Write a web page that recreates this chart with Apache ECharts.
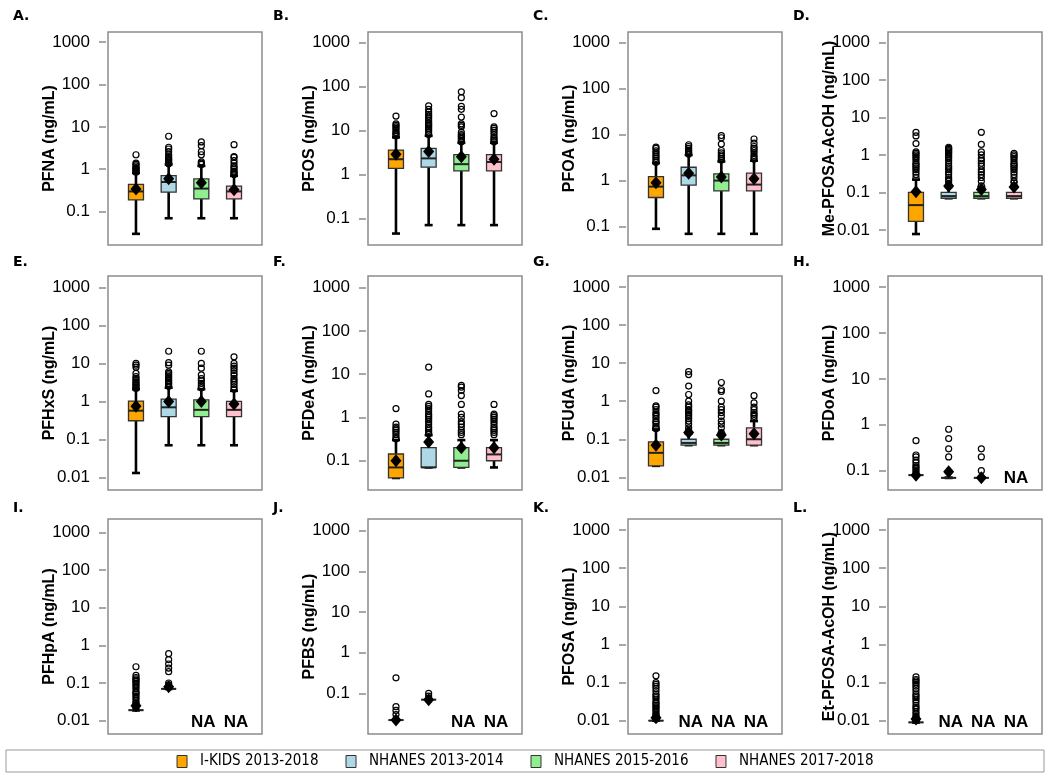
<!DOCTYPE html>
<html>
<head>
<meta charset="utf-8">
<title>PFAS boxplots</title>
<script src="https://cdn.jsdelivr.net/npm/echarts@6/dist/echarts.min.js"></script>
<style>
html, body { margin: 0; padding: 0; background: #fff; }
#main { width: 1050px; height: 779px; }
</style>
</head>
<body>
<div id="main"></div>
<script>
// groups + colours
var groups = ['I-KIDS 2013-2018', 'NHANES 2013-2014', 'NHANES 2015-2016', 'NHANES 2017-2018'];
var groupColors = ['#FFA500', '#ADD8E6', '#90EE90', '#FFC0CB'];

// tick labels
var ticksHi = [0.1, 1, 10, 100, 1000];
var ticksLo = [0.01, 0.1, 1, 10, 100, 1000];

// box stats per group: [min, q1, median, q3, max], null = NA
var pfnaBox = [[0.03, 0.19, 0.3, 0.44, 0.82], [0.07, 0.29, 0.5, 0.71, 1.3], [0.07, 0.2, 0.35, 0.59, 1.2], [0.07, 0.2, 0.3, 0.4, 0.7]];
var pfnaMean = [0.34, 0.6, 0.48, 0.33];
var pfnaOut = [
    [0.85, 0.9, 0.95, 1.0, 1.05, 1.1, 1.2, 1.3, 1.4, 2.2],
    [1.35, 1.4, 1.5, 1.6, 1.7, 1.8, 2.0, 2.2, 2.6, 3.0, 3.3, 6.0],
    [1.3, 1.4, 1.5, 2.2, 2.6, 3.6, 4.4],
    [0.75, 0.8, 0.85, 0.9, 1.0, 1.1, 1.2, 1.4, 1.6, 1.9, 2.0, 3.8]
];

var pfosBox = [[0.045, 1.37, 2.2, 3.56, 6.9], [0.07, 1.45, 2.3, 3.9, 7.5], [0.07, 1.2, 1.7, 2.8, 5.2], [0.07, 1.2, 1.9, 2.8, 5.2]];
var pfosMean = [2.85, 3.3, 2.5, 2.2];
var pfosOut = [
    [7.5, 8, 8.5, 9, 10, 11, 12, 13, 14, 21],
    [8, 9, 10, 11, 12, 13, 14, 15, 17, 19, 21, 23, 26, 30, 36],
    [5.5, 6, 6.5, 7, 7.5, 8, 9, 12, 13, 14, 20, 30, 35, 55, 75],
    [5.5, 6, 6.5, 7, 8, 9, 10, 11, 12, 24]
];

var pfoaBox = [[0.09, 0.43, 0.74, 1.22, 2.4], [0.07, 0.8, 1.3, 1.95, 3.6], [0.07, 0.6, 1.0, 1.4, 2.6], [0.07, 0.6, 0.82, 1.45, 2.7]];
var pfoaMean = [0.9, 1.45, 1.2, 1.1];
var pfoaOut = [
    [2.5, 2.7, 3.0, 3.3, 3.6, 4.0, 4.4, 5.0, 5.3],
    [3.8, 4.0, 4.3, 4.6, 5.0, 5.5, 6.0],
    [2.8, 3.0, 3.3, 3.6, 4.0, 4.5, 6.2, 8.5, 9.5],
    [2.9, 3.2, 3.5, 4.0, 4.5, 5.0, 5.5, 6.5, 8.0]
];

var mefosaBox = [[0.0078, 0.017, 0.046, 0.1, 0.22], [0.07, 0.07, 0.08, 0.1, 0.14], [0.07, 0.07, 0.08, 0.1, 0.14], [0.07, 0.07, 0.08, 0.1, 0.14]];
var mefosaMean = [0.105, 0.148, 0.12, 0.14];
var mefosaOut = [
    [0.25, 0.3, 0.35, 0.4, 0.45, 0.5, 0.55, 0.6, 0.7, 0.8, 0.9, 1.0, 1.1, 1.2, 2.0, 3.2, 4.0],
    [0.15, 0.17, 0.2, 0.22, 0.25, 0.3, 0.35, 0.4, 0.45, 0.5, 0.6, 0.7, 0.8, 0.9, 1.0, 1.1, 1.2, 1.3, 1.4, 1.5, 1.6],
    [0.15, 0.2, 0.25, 0.3, 0.35, 0.4, 0.5, 0.6, 0.7, 0.8, 1.0, 1.2, 1.9, 4.0],
    [0.15, 0.18, 0.2, 0.25, 0.3, 0.35, 0.4, 0.45, 0.5, 0.55, 0.6, 0.7, 0.8, 0.9, 1.0, 1.1]
];

var pfhxsBox = [[0.013, 0.31, 0.57, 1.02, 2.1], [0.07, 0.4, 0.7, 1.15, 2.3], [0.07, 0.4, 0.6, 1.1, 2.1], [0.07, 0.4, 0.6, 1.0, 1.9]];
var pfhxsMean = [0.75, 1.0, 1.0, 0.85];
var pfhxsOut = [
    [2.2, 2.4, 2.6, 2.8, 3.0, 3.3, 3.6, 4.0, 4.5, 5.5, 8.0, 9.0, 10.0],
    [2.5, 2.8, 3.0, 3.3, 3.6, 4.0, 4.5, 5.0, 5.5, 6.0, 9.0, 10.5, 21],
    [2.3, 2.6, 3.0, 3.5, 4.0, 5.0, 7.5, 10, 21],
    [2.1, 2.4, 2.8, 3.2, 3.6, 4.0, 4.8, 5.5, 6.5, 7.5, 8.5, 10, 15]
];

var pfdeaBox = [[0.04, 0.04, 0.07, 0.143, 0.3], [0.07, 0.07, 0.07, 0.2, 0.39], [0.07, 0.07, 0.1, 0.2, 0.3], [0.07, 0.1, 0.14, 0.2, 0.3]];
var pfdeaMean = [0.1, 0.27, 0.2, 0.2];
var pfdeaOut = [
    [0.32, 0.35, 0.4, 0.45, 0.5, 0.55, 0.6, 0.7, 1.6],
    [0.42, 0.45, 0.5, 0.55, 0.6, 0.7, 0.8, 0.9, 1.0, 1.1, 1.2, 1.4, 1.6, 1.8, 2.0, 3.5, 14.5],
    [0.4, 0.45, 0.5, 0.6, 0.7, 0.8, 1.0, 1.2, 2.0, 3.2, 4.2, 5.0, 5.5],
    [0.4, 0.45, 0.5, 0.55, 0.6, 0.7, 0.8, 0.9, 1.0, 1.1, 1.2, 2.0]
];

var pfudaBox = [[0.02, 0.02, 0.044, 0.085, 0.18], [0.07, 0.07, 0.08, 0.1, 0.14], [0.07, 0.07, 0.08, 0.1, 0.14], [0.07, 0.07, 0.1, 0.2, 0.3]];
var pfudaMean = [0.07, 0.15, 0.13, 0.14];
var pfudaOut = [
    [0.19, 0.2, 0.22, 0.25, 0.28, 0.3, 0.35, 0.4, 0.45, 0.5, 0.6, 0.7, 0.75, 1.9],
    [0.15, 0.17, 0.2, 0.25, 0.3, 0.35, 0.4, 0.45, 0.5, 0.55, 0.6, 0.7, 0.8, 1.0, 1.5, 2.5, 5.0, 6.0],
    [0.15, 0.2, 0.25, 0.3, 0.4, 0.5, 0.6, 0.7, 1.0, 1.8, 2.0, 3.1],
    [0.35, 0.4, 0.45, 0.5, 0.6, 0.7, 0.9, 1.4]
];

var pfdoaBox = [[0.08, 0.08, 0.08, 0.08, 0.08], [0.07, 0.07, 0.07, 0.07, 0.07], [0.07, 0.07, 0.07, 0.07, 0.07], null];
var pfdoaMean = [0.08, 0.095, 0.07, null];
var pfdoaOut = [
    [0.09, 0.1, 0.11, 0.12, 0.13, 0.15, 0.17, 0.2, 0.22, 0.45],
    [0.2, 0.3, 0.5, 0.8],
    [0.1, 0.2, 0.3],
    null
];

var pfhpaBox = [[0.019, 0.019, 0.019, 0.019, 0.019], [0.07, 0.07, 0.07, 0.07, 0.07], null, null];
var pfhpaMean = [0.025, 0.08, null, null];
var pfhpaOut = [
    [0.022, 0.025, 0.028, 0.03, 0.035, 0.04, 0.045, 0.05, 0.055, 0.06, 0.07, 0.08, 0.09, 0.1, 0.11, 0.12, 0.13, 0.14, 0.16, 0.27],
    [0.09, 0.1, 0.2, 0.25, 0.32, 0.42, 0.6],
    null, null
];

var pfbsBox = [[0.022, 0.022, 0.022, 0.022, 0.022], [0.07, 0.07, 0.07, 0.07, 0.07], null, null];
var pfbsMean = [0.022, 0.07, null, null];
var pfbsOut = [[0.03, 0.038, 0.047, 0.24], [0.085, 0.1], null, null];

var pfosaBox = [[0.01, 0.01, 0.01, 0.01, 0.01], null, null, null];
var pfosaMean = [0.012, null, null, null];
var pfosaOut = [
    [0.011, 0.012, 0.013, 0.014, 0.015, 0.017, 0.019, 0.021, 0.023, 0.025, 0.028, 0.03, 0.035, 0.04, 0.045, 0.05, 0.06, 0.07, 0.08, 0.09, 0.1, 0.15],
    null, null, null
];

var etfosaBox = [[0.009, 0.009, 0.009, 0.009, 0.009], null, null, null];
var etfosaMean = [0.011, null, null, null];
var etfosaOut = [
    [0.01, 0.011, 0.012, 0.013, 0.015, 0.017, 0.02, 0.022, 0.025, 0.03, 0.035, 0.04, 0.045, 0.05, 0.06, 0.07, 0.08, 0.09, 0.1, 0.11, 0.12, 0.14],
    null, null, null
];

// panel setup, range = log10 limits of the plot box
var panels = [
    {letter: 'A.', name: 'PFNA (ng/mL)', box: pfnaBox, mean: pfnaMean, out: pfnaOut, ticks: ticksHi, range: [-1.786, 3.236]},
    {letter: 'B.', name: 'PFOS (ng/mL)', box: pfosBox, mean: pfosMean, out: pfosOut, ticks: ticksHi, range: [-1.607, 3.234]},
    {letter: 'C.', name: 'PFOA (ng/mL)', box: pfoaBox, mean: pfoaMean, out: pfoaOut, ticks: ticksHi, range: [-1.397, 3.224]},
    {letter: 'D.', name: 'Me-PFOSA-AcOH (ng/mL)', box: mefosaBox, mean: mefosaMean, out: mefosaOut, ticks: ticksLo, range: [-2.4, 3.275]},
    {letter: 'E.', name: 'PFHxS (ng/mL)', box: pfhxsBox, mean: pfhxsMean, out: pfhxsOut, ticks: ticksLo, range: [-2.334, 3.305]},
    {letter: 'F.', name: 'PFDeA (ng/mL)', box: pfdeaBox, mean: pfdeaMean, out: pfdeaOut, ticks: ticksHi, range: [-1.676, 3.268]},
    {letter: 'G.', name: 'PFUdA (ng/mL)', box: pfudaBox, mean: pfudaMean, out: pfudaOut, ticks: ticksLo, range: [-2.333, 3.289]},
    {letter: 'H.', name: 'PFDoA (ng/mL)', box: pfdoaBox, mean: pfdoaMean, out: pfdoaOut, ticks: ticksHi, range: [-1.42, 3.24]},
    {letter: 'I.', name: 'PFHpA (ng/mL)', box: pfhpaBox, mean: pfhpaMean, out: pfhpaOut, ticks: ticksLo, range: [-2.353, 3.353]},
    {letter: 'J.', name: 'PFBS (ng/mL)', box: pfbsBox, mean: pfbsMean, out: pfbsOut, ticks: ticksHi, range: [-2.0, 3.287]},
    {letter: 'K.', name: 'PFOSA (ng/mL)', box: pfosaBox, mean: pfosaMean, out: pfosaOut, ticks: ticksLo, range: [-2.35, 3.29]},
    {letter: 'L.', name: 'Et-PFOSA-AcOH (ng/mL)', box: etfosaBox, mean: etfosaMean, out: etfosaOut, ticks: ticksLo, range: [-2.35, 3.29]}
];

var rowTop = [32, 276, 519];
var rowHeight = [213, 214, 215];
var letterTop = [9, 255, 501];
var sans = 'Arial, "Liberation Sans", sans-serif';

function renderBox(params, api) {
    var x = api.value(0);
    var lo = api.coord([x, api.value(1)]);
    var q1 = api.coord([x, api.value(2)]);
    var md = api.coord([x, api.value(3)]);
    var q3 = api.coord([x, api.value(4)]);
    var hi = api.coord([x, api.value(5)]);
    var cx = lo[0], half = 7.5, cap = 4;
    var wStyle = {stroke: '#000', lineWidth: 2.6};
    var kids = [
        {type: 'line', shape: {x1: cx, y1: q1[1], x2: cx, y2: lo[1]}, style: wStyle},
        {type: 'line', shape: {x1: cx, y1: q3[1], x2: cx, y2: hi[1]}, style: wStyle},
        {type: 'line', shape: {x1: cx - cap, y1: lo[1], x2: cx + cap, y2: lo[1]}, style: wStyle},
        {type: 'line', shape: {x1: cx - cap, y1: hi[1], x2: cx + cap, y2: hi[1]}, style: wStyle},
        {type: 'rect', shape: {x: cx - half, y: q3[1], width: half * 2, height: q1[1] - q3[1]},
            style: {fill: api.visual('color'), stroke: '#333', lineWidth: 1.3}},
        {type: 'line', shape: {x1: cx - half, y1: md[1], x2: cx + half, y2: md[1]}, style: {stroke: '#222', lineWidth: 2}}
    ];
    return {type: 'group', children: kids};
}

// tick label: only the powers of ten listed for the panel
function tickFormatter(ticks) {
    return function (v) {
        var r = +(+v).toPrecision(3);
        return ticks.indexOf(r) >= 0 ? String(r) : '';
    };
}

var chart = echarts.init(document.getElementById('main'));
var grids = [], xAxes = [], yAxes = [], series = [], graphics = [];

panels.forEach(function (p, i) {
    var col = i % 4, row = Math.floor(i / 4);
    grids.push({
        left: 108 + 260 * col, top: rowTop[row], width: 154, height: rowHeight[row],
        show: true, borderColor: '#8c8c8c', borderWidth: 1.5
    });
    xAxes.push({type: 'value', gridIndex: i, min: 0.144, max: 4.856, show: false});
    yAxes.push({
        type: 'log', gridIndex: i, offset: 2,
        min: Math.pow(10, p.range[0]), max: Math.pow(10, p.range[1]),
        name: p.name, nameLocation: 'middle', nameGap: 48, nameMoveOverlap: false,
        nameTextStyle: {fontFamily: sans, fontWeight: 'bold', fontSize: 16, color: '#000'},
        axisLine: {show: false},
        splitLine: {show: false},
        axisTick: {show: true, length: 7, customValues: p.ticks, lineStyle: {color: '#8c8c8c', width: 1.5}},
        axisLabel: {
            show: true, margin: 16, showMinLabel: false, showMaxLabel: false, hideOverlap: false,
            fontFamily: sans, fontSize: 17, color: '#000',
            formatter: tickFormatter(p.ticks)
        }
    });

    p.box.forEach(function (b, g) {
        if (!b) return;
        series.push({
            type: 'custom', name: groups[g], xAxisIndex: i, yAxisIndex: i,
            itemStyle: {color: groupColors[g]}, renderItem: renderBox, silent: true, z: 2,
            data: [[g + 1].concat(b)]
        });
    });

    var pts = [];
    p.out.forEach(function (arr, g) {
        if (!arr) return;
        arr.forEach(function (v) { pts.push([g + 1, v]); });
    });
    series.push({
        type: 'scatter', xAxisIndex: i, yAxisIndex: i, symbol: 'circle', symbolSize: 6, silent: true, z: 3,
        itemStyle: {color: 'rgba(0,0,0,0)', borderColor: '#000', borderWidth: 1.2, opacity: 1},
        data: pts
    });

    var means = [];
    p.mean.forEach(function (v, g) { if (v != null) means.push([g + 1, v]); });
    series.push({
        type: 'scatter', xAxisIndex: i, yAxisIndex: i, symbol: 'diamond', symbolSize: [11, 13], silent: true, z: 4,
        itemStyle: {color: '#000', opacity: 1},
        data: means
    });

    graphics.push({
        type: 'text', left: 13 + 260 * col, top: letterTop[row],
        style: {text: p.letter, font: 'bold 14px "DejaVu Sans"', fill: '#000'}
    });
});

chart.setOption({
    animation: false,
    grid: grids,
    xAxis: xAxes,
    yAxis: yAxes,
    legend: {
        data: groups, left: 'center', top: 749, icon: 'rect', itemWidth: 10, itemHeight: 12, itemGap: 27,
        selectedMode: false,
        itemStyle: {borderColor: '#333', borderWidth: 1},
        textStyle: {fontFamily: '"DejaVu Sans Condensed", "DejaVu Sans"', fontSize: 15, color: '#000', padding: [0, 0, 0, 8]}
    },
    series: series
});

// NA labels at the missing groups, legend frame
panels.forEach(function (p, i) {
    var row = Math.floor(i / 4);
    p.box.forEach(function (b, g) {
        if (b) return;
        var px = chart.convertToPixel({xAxisIndex: i}, g + 1);
        graphics.push({
            type: 'text', x: px + 2, y: rowTop[row] + rowHeight[row] - 12,
            style: {text: 'NA', font: 'bold 17px Arial, "Liberation Sans", sans-serif', fill: '#000', align: 'center', verticalAlign: 'middle'}
        });
    });
});
graphics.push({
    type: 'rect', shape: {x: 6, y: 750, width: 1038, height: 22},
    style: {fill: 'none', stroke: '#999', lineWidth: 1}
});

chart.setOption({graphic: graphics});
</script>
</body>
</html>
